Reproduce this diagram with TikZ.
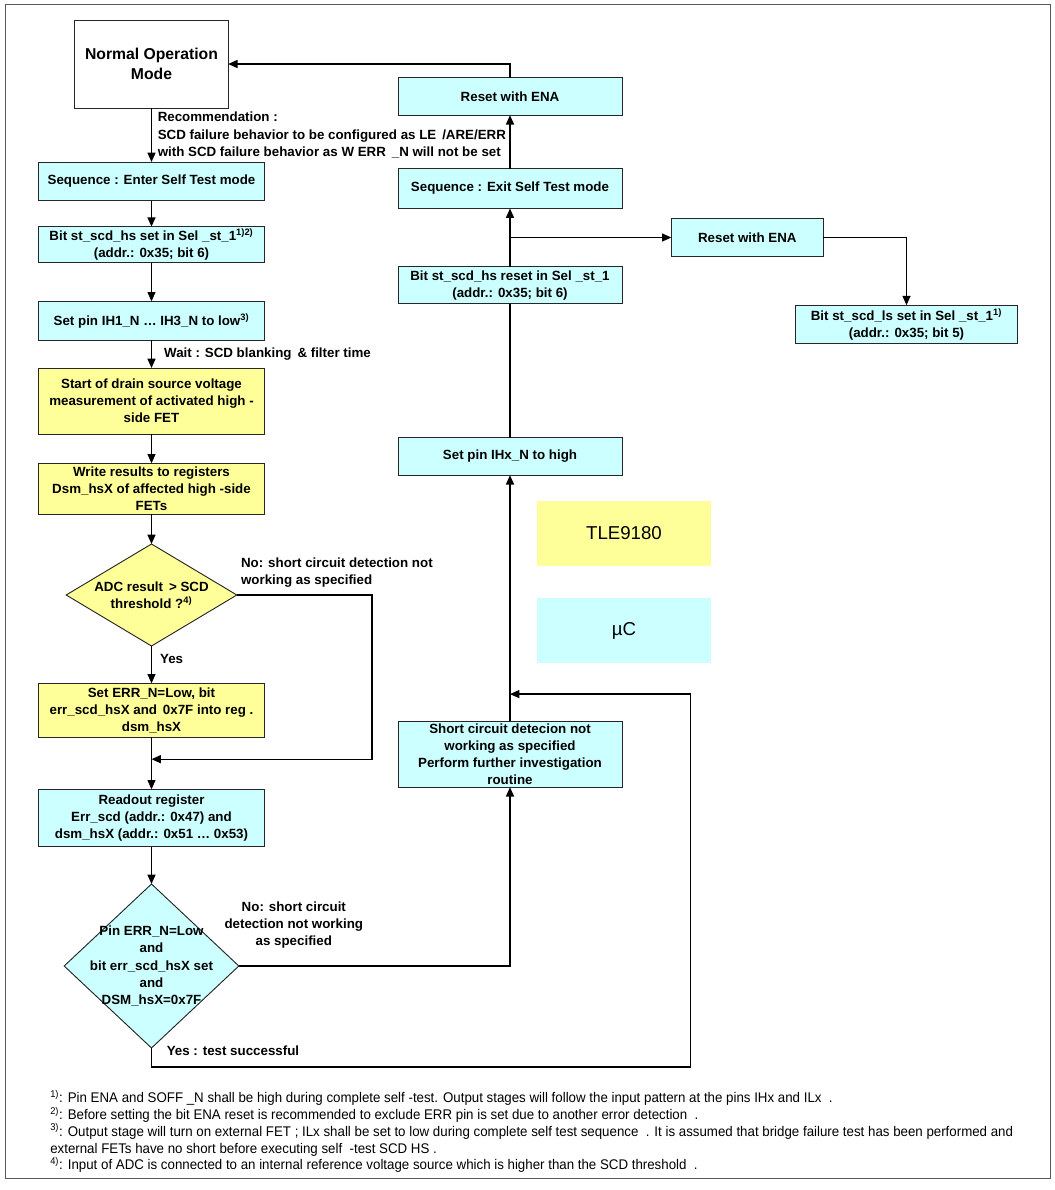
\documentclass[tikz,border=0pt]{standalone}
\usepackage{fontspec}
\setmainfont{Liberation Sans}
\newfontfamily\notefont[FakeStretch=0.95]{Liberation Sans}
\usetikzlibrary{shapes.geometric, arrows.meta, positioning, calc}
\definecolor{scdcyan}{HTML}{CCFFFF}
\definecolor{scdyellow}{HTML}{FFFF99}
\tikzstyle{arrow} = [line width=1pt, -{Triangle[length=7pt,width=6pt]}]
\tikzstyle{wire} = [line width=1pt]

\begin{document}
\begin{tikzpicture}[x=0.75pt, y=-0.75pt,
    every node/.style={font=\bfseries\fontsize{10}{12.8}\selectfont, align=center},
    mcu/.style={rectangle, draw=black!85, line width=0.7pt, outer sep=0pt, fill=scdcyan, inner sep=1pt, minimum width=170pt},
    ic/.style={mcu, fill=scdyellow},
    check/.style={diamond, draw=black!85, line width=0.7pt, outer sep=0pt, inner sep=0pt},
    remark/.style={align=left, inner sep=0pt},
    legend/.style={rectangle, inner sep=0pt, minimum width=130.5pt, minimum height=49pt, font=\fontsize{14}{16}\selectfont}
  ]
    \useasboundingbox (0,0) rectangle (1055,1190);
    \draw[black!65, line width=0.6pt] (5,4) rectangle (1050,1178);

    % Left column: self test sequence
    \node[rectangle, draw=black!85, line width=0.7pt, outer sep=0pt, fill=white, minimum width=115pt, minimum height=66pt,
          font=\bfseries\fontsize{11.8}{15}\selectfont] (normal) at (151.5,64) {Normal Operation\\Mode};
    \node[mcu, minimum height=29pt, below=40.5pt of normal] (seqenter) {Sequence : Enter Self Test mode};
    \node[mcu, minimum height=27pt, below=19.5pt of seqenter] (bitset) {Bit st\_scd\_hs set in Sel \_st\_1\textsuperscript{1)2)}\\(addr.: 0x35; bit 6)};
    \node[mcu, minimum height=29pt, below=29pt of bitset] (setlow) {Set pin IH1\_N … IH3\_N to low\textsuperscript{3)}};
    \node[ic, minimum height=49.5pt, below=21pt of setlow] (start) {Start of drain source voltage\\measurement of activated high -\\side FET};
    \node[ic, minimum height=38pt, below=22pt of start] (write) {Write results to registers\\Dsm\_hsX of affected high -side\\FETs};
    \node[check, fill=scdyellow, minimum width=128pt, minimum height=76.5pt, below=22.5pt of write] (chk1) {};
    \node (chk1txt) at (chk1) {ADC result \,> SCD\\threshold ?\textsuperscript{4)}};
    \node[ic, minimum height=40.5pt, below=28pt of chk1] (seterr) {Set ERR\_N=Low, bit\\err\_scd\_hsX and \,0x7F into reg .\\dsm\_hsX};
    \node[mcu, minimum height=43pt, below=39pt of seterr] (readout) {Readout register\\Err\_scd (addr.: 0x47) and\\dsm\_hsX (addr.: 0x51 … 0x53)};
    \node[check, fill=scdcyan, minimum width=131pt, minimum height=123pt, below=28pt of readout] (chk2) {};
    \node (chk2txt) at (chk2) {Pin ERR\_N=Low\\and\\bit err\_scd\_hsX set\\and\\DSM\_hsX=0x7F};

    % Right column: exit sequence
    \node[mcu, minimum width=168pt, minimum height=28pt] (rstena) at (510,96.5) {Reset with ENA};
    \node[mcu, minimum width=168pt, minimum height=30pt, below=40pt of rstena] (seqexit) {Sequence : Exit Self Test mode};
    \node[mcu, minimum width=168pt, minimum height=28pt, below=43.5pt of seqexit] (bitreset) {Bit st\_scd\_hs reset in Sel \_st\_1\\(addr.: 0x35; bit 6)};
    \node[mcu, minimum width=168pt, minimum height=28pt, below=100.5pt of bitreset] (sethigh) {Set pin IHx\_N to high};
    \node[mcu, minimum width=168pt, minimum height=49.5pt, below=184.5pt of sethigh] (shortbox) {Short circuit detecion not\\working as specified\\Perform further investigation\\routine};
    \coordinate (brk) at ($(seqexit.south)!0.5!(bitreset.north)$);
    \node[mcu, minimum width=114pt, minimum height=28.5pt, right=121pt of brk] (rstls) {Reset with ENA};
    \node[mcu, minimum width=167pt, minimum height=29pt] (bitls) at (906.5,324.5) {Bit st\_scd\_ls set in Sel \_st\_1\textsuperscript{1)}\\(addr.: 0x35; bit 5)};

    % Legend
    \node[legend, fill=scdyellow] (legtle) at (624,533.5) {TLE9180};
    \node[legend, fill=scdcyan] (legmcu) at (624,630.5) {µC};

    % Merge points
    \coordinate (mrg1) at ($(seterr.south)!0.42!(readout.north)$);
    \coordinate (mrg2) at ($(sethigh.south)!0.89!(shortbox.north)$);

    % Arrows down the left column
    \draw[arrow] (normal) -- (seqenter);
    \draw[arrow] (seqenter) -- (bitset);
    \draw[arrow] (bitset) -- (setlow);
    \draw[arrow] (setlow) -- (start) node[midway, right=9pt, remark] (waitlbl) {Wait : SCD blanking \,\& filter time};
    \draw[arrow] (start) -- (write);
    \draw[arrow] (write) -- (chk1);
    \draw[arrow] (chk1) -- (seterr) node[pos=0.35, right=6pt, remark] (yes1) {Yes};
    \draw[arrow] (seterr) -- (readout);
    \draw[arrow] (chk1.east) -- ++(135,0) |- (mrg1);
    \draw[arrow] (readout) -- (chk2);

    % Labels
    \node[remark, anchor=north west, font=\bfseries\fontsize{10}{13}\selectfont] (recom) at ($(normal.south)+(6,4)$)
      {Recommendation :\\SCD failure behavior to be configured as LE \,/ARE/ERR\\with SCD failure behavior as W ERR \,\_N will not be set};
    \node[remark, anchor=south west] (no1) at ($(chk1.east)+(4,-7)$) {No: short circuit detection not\\working as specified};
    \node[anchor=south, inner sep=0pt] (no2) at ($(chk2.east)+(55,-17)$) {No: short circuit\\detection not working\\as specified};
    \node[remark, anchor=west] (yes2) at ($(chk2.south)+(15,3)$) {Yes : test successful};

    % Connectors of the right column
    \draw[arrow] (chk2.east) -| (shortbox.south);
    \draw[arrow] (chk2.south) |- ++(539,19) |- (mrg2);
    \draw[arrow] (shortbox) -- (sethigh);
    \draw[wire] (sethigh) -- (bitreset);
    \draw[arrow] (bitreset) -- (seqexit);
    \draw[arrow] (brk) -- (rstls);
    \draw[arrow] (rstls.east) -| (bitls.north);
    \draw[arrow] (seqexit) -- (rstena);
    \draw[arrow] (rstena.north) |- (normal.east);

    % Footnotes
    \node[remark, anchor=north west, font=\notefont\fontsize{10.5}{12.6}\selectfont] (notes) at (50,1090)
      {\textsuperscript{1)}: Pin ENA and SOFF \_N shall be high during complete self -test. Output stages will follow the input pattern at the pins IHx and ILx \ .\\
       \textsuperscript{2)}: Before setting the bit ENA reset is recommended to exclude ERR pin is set due to another error detection \ .\\
       \textsuperscript{3)}: Output stage will turn on external FET ; ILx shall be set to low during complete self test sequence \ . It is assumed that bridge failure test has been performed and\\
       external FETs have no short before executing self \ -test SCD HS .\\
       \textsuperscript{4)}: Input of ADC is connected to an internal reference voltage source which is higher than the SCD threshold \ .};
  \end{tikzpicture}
\end{document}
